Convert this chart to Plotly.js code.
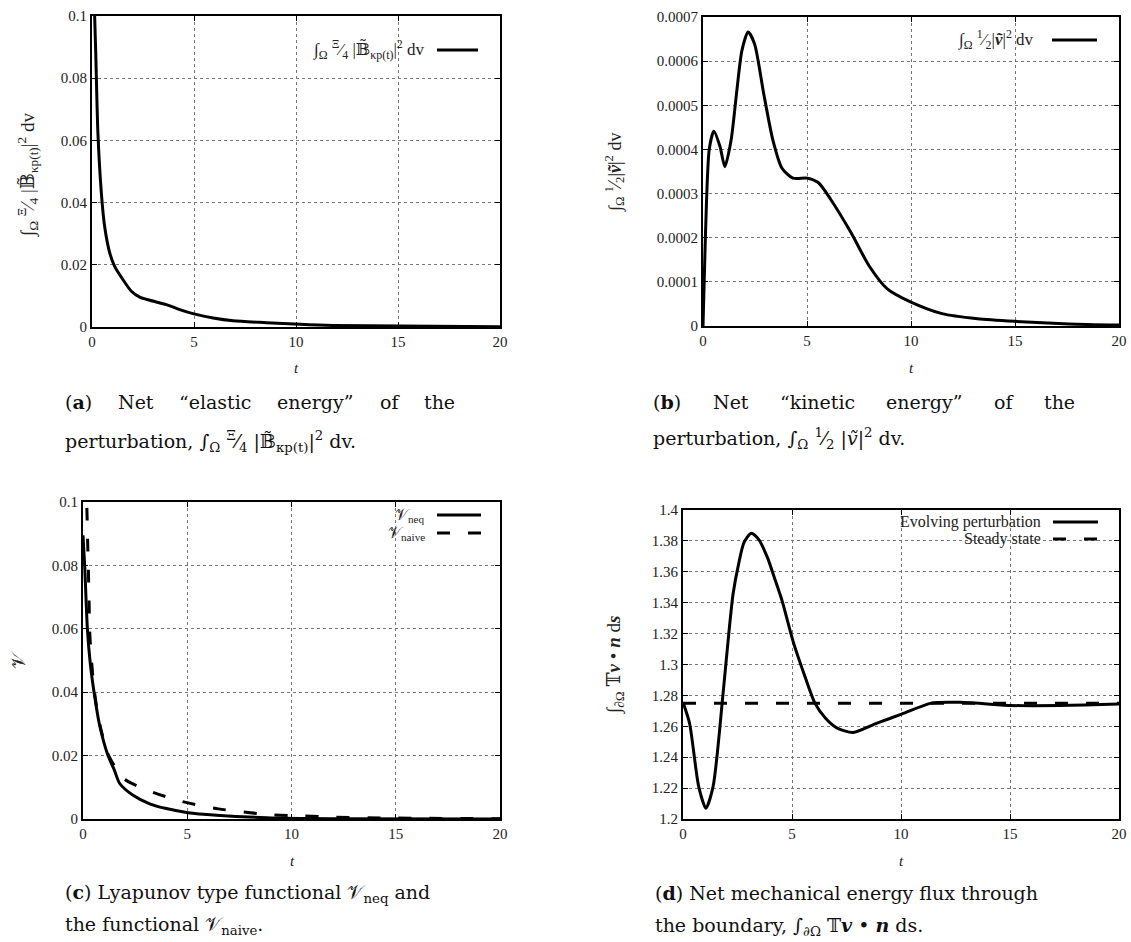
<!DOCTYPE html>
<html><head><meta charset="utf-8">
<script src="https://cdn.plot.ly/plotly-3.0.1.min.js"></script>
<style>html,body{margin:0;padding:0;background:#fff}#chart{width:1131px;height:942px}</style>
</head><body><div id="chart"></div>
<script>
// ---- data ----
const tA = [0.05, 0.13, 0.18, 0.29, 0.46, 0.62, 0.87, 1.11, 1.52, 1.93, 2.34, 2.83, 3.65, 4.3, 4.95, 5.94, 6.92, 8.55, 10.19, 11.8, 15.1, 20];
const elastic = [0.125, 0.1, 0.089, 0.0623, 0.043, 0.0323, 0.0238, 0.0195, 0.0152, 0.0115, 0.0096, 0.0086, 0.0072, 0.0056, 0.0043, 0.0029, 0.002, 0.0014, 0.00086, 0.0005, 0.0003, 0.0001];

const tB = [0, 0.12, 0.3, 0.52, 0.82, 1.05, 1.35, 1.61, 1.87, 2.17, 2.48, 2.92, 3.36, 3.79, 4.32, 5.02, 5.54, 6.15, 7.12, 7.99, 8.86, 10.0, 11.49, 13.2, 15.0, 17.6, 20];
const kinetic = [0, 0.000211, 0.0004, 0.000441, 0.000406, 0.000361, 0.000421, 0.000526, 0.000624, 0.000666, 0.000639, 0.000526, 0.000421, 0.000358, 0.000335, 0.000335, 0.000325, 0.000286, 0.000211, 0.000136, 0.000084, 0.000054, 0.000028, 0.0000165, 0.0000105, 0.0000045, 0.000002];

const tNeq = [0, 0.08, 0.21, 0.35, 0.53, 0.8, 1.2, 1.5, 1.76, 2.4, 3.2, 4.0, 5.04, 6.4, 8.8, 12, 20];
const vNeq = [0.0895, 0.08, 0.06, 0.049, 0.04, 0.0295, 0.02, 0.0155, 0.0112, 0.0075, 0.0048, 0.0033, 0.002, 0.0012, 0.0004, 0.0001, 0];
const tNaive = [0.13, 0.19, 0.22, 0.26, 0.29, 0.33, 0.42, 0.55, 0.8, 1.2, 1.6, 2.0, 3.2, 4.7, 6.5, 8.9, 10.5, 12, 15, 20];
const vNaive = [0.108, 0.097, 0.088, 0.078, 0.069, 0.058, 0.049, 0.04, 0.03, 0.0205, 0.0158, 0.0125, 0.0088, 0.0056, 0.0032, 0.0014, 0.001, 0.0006, 0.0003, 0.0001];

const tFlux = [0, 0.3, 0.72, 1.05, 1.38, 1.83, 2.1, 2.3, 2.55, 2.8, 3.13, 3.47, 3.88, 4.22, 4.55, 5.05, 5.55, 6.05, 6.55, 7.05, 7.8, 8.9, 10.05, 11.4, 12.7, 15.05, 16.05, 18.4, 20];
const flux = [1.2755, 1.262, 1.221, 1.207, 1.221, 1.28, 1.32, 1.346, 1.365, 1.379, 1.385, 1.381, 1.369, 1.355, 1.341, 1.315, 1.294, 1.275, 1.265, 1.259, 1.256, 1.262, 1.268, 1.275, 1.2755, 1.2735, 1.2733, 1.2738, 1.2745];
const tSteady = [0, 20];
const steady = [1.275, 1.275];

const xTicks = [0, 5, 10, 15, 20];
const bTickVals = [0, 0.0001, 0.0002, 0.0003, 0.0004, 0.0005, 0.0006, 0.0007];
const bTickText = ['0', '0.0001', '0.0002', '0.0003', '0.0004', '0.0005', '0.0006', '0.0007'];

// ---- helpers ----
const W = 1131, H = 942;
const px = x => x / W, py = y => 1 - y / H;
const SERIF = "'Liberation Serif', 'DejaVu Serif', serif";
const CAPSERIF = "'DejaVu Serif', 'Liberation Serif', serif";
const CAPSIZE = 19;
const tickFont = {family: SERIF, size: 15, color: '#222'};
const capFont = {family: CAPSERIF, size: CAPSIZE, color: '#111'};

function xax(d) {
  return {domain: d, range: [0, 20], tickvals: xTicks, showline: true, linecolor: '#000', linewidth: 2,
    mirror: 'allticks', ticks: 'inside', ticklen: 5, tickcolor: '#000', showgrid: true, gridcolor: '#777',
    griddash: 'dot', gridwidth: 1, zeroline: false, tickfont: tickFont, fixedrange: true};
}
function yax(d, r, dt) {
  return {domain: d, range: r, dtick: dt, showline: true, linecolor: '#000', linewidth: 2,
    mirror: 'allticks', ticks: 'inside', ticklen: 5, tickcolor: '#000', showgrid: true, gridcolor: '#777',
    griddash: 'dot', gridwidth: 1, zeroline: false, tickfont: tickFont, fixedrange: true};
}

const solid = {color: '#000', width: 3, shape: 'spline', smoothing: 0.7};
const dashed = {color: '#000', width: 3, dash: '13px,18px', shape: 'spline', smoothing: 0.7};

const traces = [
  {x: tA, y: elastic, xaxis: 'x', yaxis: 'y', mode: 'lines', line: solid},
  {x: tB, y: kinetic, xaxis: 'x2', yaxis: 'y2', mode: 'lines', line: solid},
  {x: tNeq, y: vNeq, xaxis: 'x3', yaxis: 'y3', mode: 'lines', line: solid},
  {x: tNaive, y: vNaive, xaxis: 'x3', yaxis: 'y3', mode: 'lines', line: dashed},
  {x: tFlux, y: flux, xaxis: 'x4', yaxis: 'y4', mode: 'lines', line: solid},
  {x: tSteady, y: steady, xaxis: 'x4', yaxis: 'y4', mode: 'lines', line: {color: '#000', width: 3, dash: '13px,18px'}}
];

const ann = [];
function T(text, x, y, opt) {
  ann.push(Object.assign({text: text, x: px(x), y: py(y), xref: 'paper', yref: 'paper', showarrow: false,
    xanchor: 'center', yanchor: 'middle', font: tickFont}, opt || {}));
}
const titleFont = s => ({family: SERIF, size: s, color: '#222'});
// x-axis titles
T('<i>t</i>', 296, 368);
T('<i>t</i>', 911, 368);
T('<i>t</i>', 292, 861);
T('<i>t</i>', 901, 861);
// y-axis titles
T('∫<sub>Ω</sub> <sup>Ξ</sup>⁄<sub>4</sub> |𝔹̃<sub>κp(t)</sub>|<sup>2</sup> dv', 28, 175, {textangle: -90, font: titleFont(19)});
T('∫<sub>Ω</sub> <sup>1</sup>⁄<sub>2</sub>|<b><i>ṽ</i></b>|<sup>2</sup> dv', 615, 173, {textangle: -90, font: titleFont(18)});
T('𝒱', 18, 660, {textangle: -90, font: titleFont(19)});
T('∫<sub>∂Ω</sub> 𝕋<b><i>v</i></b> • <b><i>n</i></b> d<b><i>s</i></b>', 615, 665, {textangle: -90, font: titleFont(19)});
// legends (gnuplot style: text right-aligned, sample to the right)
const legFont = titleFont(16);
T('∫<sub>Ω</sub> <sup>Ξ</sup>⁄<sub>4</sub> |𝔹̃<sub>κp(t)</sub>|<sup>2</sup> dv', 427, 50, {xanchor: 'right', font: titleFont(17)});
T('∫<sub>Ω</sub> <sup>1</sup>⁄<sub>2</sub>|<b><i>ṽ</i></b>|<sup>2</sup> dv', 1036, 40, {xanchor: 'right', font: titleFont(17)});
T('𝒱<sub>neq</sub>', 427, 515, {xanchor: 'right', font: legFont});
T('𝒱<sub>naive</sub>', 427, 533, {xanchor: 'right', font: legFont});
T('Evolving perturbation', 1043, 522, {xanchor: 'right', font: legFont});
T('Steady state', 1043, 539, {xanchor: 'right', font: legFont});

// captions; the first line of (a) and (b) is justified across the caption width
const cv = document.createElement('canvas').getContext('2d');
function wordWidth(parts) {
  return parts.reduce((s, p) => {
    cv.font = (p[1] ? 'bold ' : '') + CAPSIZE + "px 'DejaVu Serif'";
    return s + cv.measureText(p[0]).width;
  }, 0);
}
function justify(words, left, right, y) {
  const ws = words.map(w => wordWidth(w));
  const gap = (right - left - ws.reduce((a, b) => a + b, 0)) / (words.length - 1);
  let x = left;
  words.forEach((w, i) => {
    const html = w.map(p => p[1] ? '<b>' + p[0] + '</b>' : p[0]).join('');
    T(html, x, y, {xanchor: 'left', font: capFont});
    x += ws[i] + gap;
  });
}
justify([[['('], ['a', 1], [')']], [['Net']], [['“elastic']], [['energy”']], [['of']], [['the']]], 63, 453, 402);
T('perturbation, ∫<sub>Ω</sub> <sup>Ξ</sup>⁄<sub>4</sub> |𝔹̃<sub>κp(t)</sub>|<sup>2</sup> dv.', 63, 441, {xanchor: 'left', font: capFont});
justify([[['('], ['b', 1], [')']], [['Net']], [['“kinetic']], [['energy”']], [['of']], [['the']]], 651, 1073, 402);
T('perturbation, ∫<sub>Ω</sub> <sup>1</sup>⁄<sub>2</sub> |<i>ṽ</i>|<sup>2</sup> dv.', 651, 438, {xanchor: 'left', font: capFont});
T('(<b>c</b>) Lyapunov type functional 𝒱<sub>neq</sub> and', 63, 893, {xanchor: 'left', font: capFont});
T('the functional 𝒱<sub>naive</sub>.', 63, 925, {xanchor: 'left', font: capFont});
T('(<b>d</b>) Net mechanical energy flux through', 653, 893, {xanchor: 'left', font: capFont});
T('the boundary, ∫<sub>∂Ω</sub> 𝕋<b><i>v</i></b> • <b><i>n</i></b> ds.', 653, 926, {xanchor: 'left', font: capFont});

function seg(x0, x1, y, dash) {
  return {type: 'line', xref: 'paper', yref: 'paper', x0: px(x0), x1: px(x1), y0: py(y), y1: py(y),
    line: {color: '#000', width: 3, dash: dash || 'solid'}};
}
const shapes = [
  {type: 'rect', xref: 'paper', yref: 'paper', x0: px(831), x1: px(1109), y0: py(548), y1: py(511),
    fillcolor: '#fff', line: {width: 0}, layer: 'between'},
  seg(437, 478, 50), seg(1052, 1097, 40),
  seg(437, 481, 515), seg(437, 481, 533, '13px,18px'),
  seg(1053, 1098, 522), seg(1053, 1098, 539, '13px,18px')
];

const layout = {
  width: W, height: H, margin: {l: 0, r: 0, t: 0, b: 0}, showlegend: false,
  paper_bgcolor: '#fff', plot_bgcolor: '#fff',
  xaxis: Object.assign(xax([px(92), px(500)]), {anchor: 'y'}),
  yaxis: Object.assign(yax([py(327), py(16)], [0, 0.1], 0.02), {anchor: 'x'}),
  xaxis2: Object.assign(xax([px(703), px(1119)]), {anchor: 'y2'}),
  yaxis2: Object.assign(yax([py(326), py(17)], [0, 0.0007]), {anchor: 'x2', tickvals: bTickVals, ticktext: bTickText}),
  xaxis3: Object.assign(xax([px(83), px(500)]), {anchor: 'y3'}),
  yaxis3: Object.assign(yax([py(819), py(502)], [0, 0.1], 0.02), {anchor: 'x3'}),
  xaxis4: Object.assign(xax([px(683), px(1119)]), {anchor: 'y4'}),
  yaxis4: Object.assign(yax([py(819), py(510)], [1.2, 1.4], 0.02), {anchor: 'x4'}),
  annotations: ann, shapes: shapes
};
Plotly.newPlot('chart', traces, layout, {staticPlot: true, displayModeBar: false});
</script></body></html>
